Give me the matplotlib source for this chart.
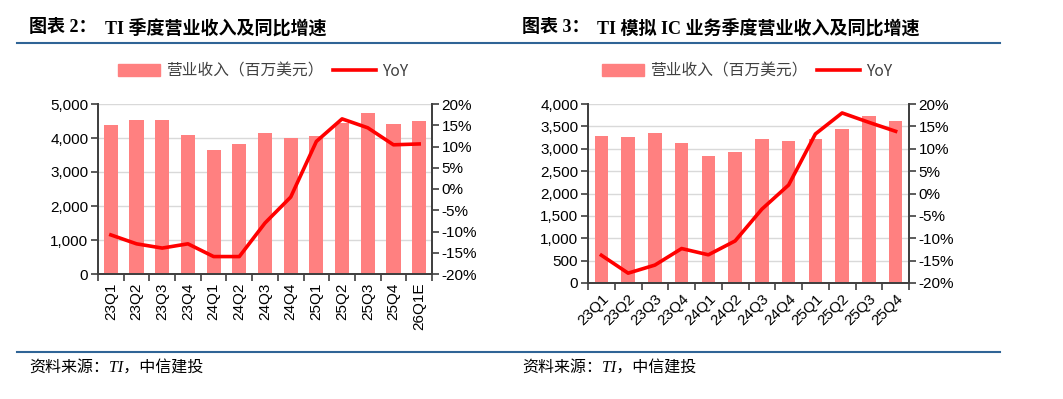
import matplotlib
matplotlib.use("Agg")
import matplotlib.pyplot as plt
from matplotlib.patches import Patch
from matplotlib.lines import Line2D
from matplotlib.ticker import FuncFormatter, MultipleLocator
import numpy as np

# Datos: figura 2 (TI total)
quarters_l = ["23Q1", "23Q2", "23Q3", "23Q4", "24Q1", "24Q2", "24Q3",
              "24Q4", "25Q1", "25Q2", "25Q3", "25Q4", "26Q1E"]
revenue_l = [4385, 4531, 4532, 4076, 3661, 3824, 4151,
             4007, 4069, 4448, 4742, 4423, 4500]
yoy_l = [-10.8, -12.9, -13.9, -12.9, -15.9, -15.9, -8.0,
         -1.9, 11.2, 16.5, 14.4, 10.4, 10.6]

# Datos: figura 3 (TI analógico)
quarters_r = ["23Q1", "23Q2", "23Q3", "23Q4", "24Q1", "24Q2", "24Q3",
              "24Q4", "25Q1", "25Q2", "25Q3", "25Q4"]
revenue_r = [3290, 3270, 3350, 3130, 2840, 2930, 3220,
             3180, 3210, 3450, 3740, 3630]
yoy_r = [-13.8, -17.8, -16.0, -12.3, -13.7, -10.6, -3.5,
         1.9, 13.3, 18.0, 15.9, 13.9]

W, H = 1063, 399
BAR = "#FF8080"
LINE = "#FF0000"
BLUE = "#2F6496"
CJK = ["Noto Sans CJK SC", "DejaVu Sans"]
NUM = ["Liberation Sans", "Noto Sans CJK SC"]
SERIF = ["Liberation Serif", "Noto Sans CJK SC"]
FS = 11

fig = plt.figure(figsize=(W / 100, H / 100), dpi=100)
fig.patch.set_facecolor("white")


def px_axes(x0, y0, x1, y1):
    return fig.add_axes([x0 / W, 1 - y1 / H, (x1 - x0) / W, (y1 - y0) / H])


def chart(ax, cats, rev, yoy, ymax, ystep, bw, rot):
    x = np.arange(len(cats))
    ax.set_axisbelow(True)
    ax.yaxis.grid(True, color="#d9d9d9", linewidth=1)
    ax.bar(x, rev, width=bw, color=BAR, zorder=2)
    ax.set_xlim(-0.5, len(cats) - 0.5)
    ax.set_ylim(0, ymax)
    ax.yaxis.set_major_locator(MultipleLocator(ystep))
    ax.yaxis.set_major_formatter(FuncFormatter(lambda v, p: f"{v:,.0f}"))
    ax.set_xticks(x)
    ax.set_xticks(np.arange(-0.5, len(cats)), minor=True)
    ax.tick_params(axis="x", which="major", length=0, pad=6)
    ax.tick_params(axis="x", which="minor", length=5, width=1.2, color="#404040")
    ax.tick_params(axis="y", length=5, width=1.2, color="#404040", labelsize=FS, pad=2)
    if rot == 90:
        ax.set_xticklabels(cats, rotation=90, fontsize=FS, family=NUM)
    else:
        ax.set_xticklabels(cats, rotation=45, ha="right", rotation_mode="anchor",
                           fontsize=FS, family=NUM)
    for lab in ax.get_yticklabels():
        lab.set_family(NUM)
    for s in ["left", "right", "bottom"]:
        ax.spines[s].set_color("#404040")
        ax.spines[s].set_linewidth(1.3)
    ax.spines["top"].set_visible(False)

    ax2 = ax.twinx()
    ax2.plot(x, yoy, color=LINE, linewidth=2.6, zorder=3)
    ax2.set_ylim(-20, 20)
    ax2.yaxis.set_major_locator(MultipleLocator(5))
    ax2.yaxis.set_major_formatter(FuncFormatter(lambda v, p: f"{v:.0f}%"))
    ax2.tick_params(axis="y", length=5, width=1.2, color="#404040", labelsize=FS, pad=2)
    for lab in ax2.get_yticklabels():
        lab.set_family(NUM)
    for s in ["left", "right", "bottom"]:
        ax2.spines[s].set_color("#404040")
        ax2.spines[s].set_linewidth(1.3)
    ax2.spines["top"].set_visible(False)
    return ax2


# Graficos
axL = px_axes(98, 104, 432, 274)
chart(axL, quarters_l, revenue_l, yoy_l, 5000, 1000, 0.55, 90)

axR = px_axes(588, 104, 909, 283)
chart(axR, quarters_r, revenue_r, yoy_r, 4000, 500, 0.5, 45)

# Leyendas
handles = [Patch(color=BAR, label="营业收入（百万美元）"),
           Line2D([], [], color=LINE, linewidth=2.6, label="YoY")]
for cx in (263 / W, 747 / W):
    leg = fig.legend(handles=handles, loc="center", bbox_to_anchor=(cx, 1 - 71 / H),
                     ncol=2, frameon=False, handlelength=2.7, handleheight=0.75,
                     columnspacing=0.6, handletextpad=0.4,
                     prop={"family": CJK, "size": 11.3})
    for t in leg.get_texts():
        t.set_color("#404040")

# Titulos y fuentes
fig.text(29 / W, 1 - 28 / H, "图表 2：", family=SERIF, weight="bold", fontsize=13, va="center")
fig.text(105 / W, 1 - 28 / H, "TI 季度营业收入及同比增速", family=SERIF, weight="bold",
         fontsize=13, va="center")
fig.text(522 / W, 1 - 28 / H, "图表 3：", family=SERIF, weight="bold", fontsize=13, va="center")
fig.text(597 / W, 1 - 28 / H, "TI 模拟 IC 业务季度营业收入及同比增速", family=SERIF,
         weight="bold", fontsize=13, va="center")

fig.add_artist(Line2D([17 / W, 1000 / W], [1 - 43 / H] * 2, color=BLUE, linewidth=1.5))
fig.add_artist(Line2D([17 / W, 1000 / W], [1 - 351.5 / H] * 2, color=BLUE, linewidth=1.5))

fig.text(29 / W, 1 - 369 / H, "资料来源：TI，中信建投", family=SERIF, style="italic",
         fontsize=11.5, va="center")
fig.text(522 / W, 1 - 369 / H, "资料来源：TI，中信建投", family=SERIF, style="italic",
         fontsize=11.5, va="center")

fig.savefig("out.png", dpi=100)
